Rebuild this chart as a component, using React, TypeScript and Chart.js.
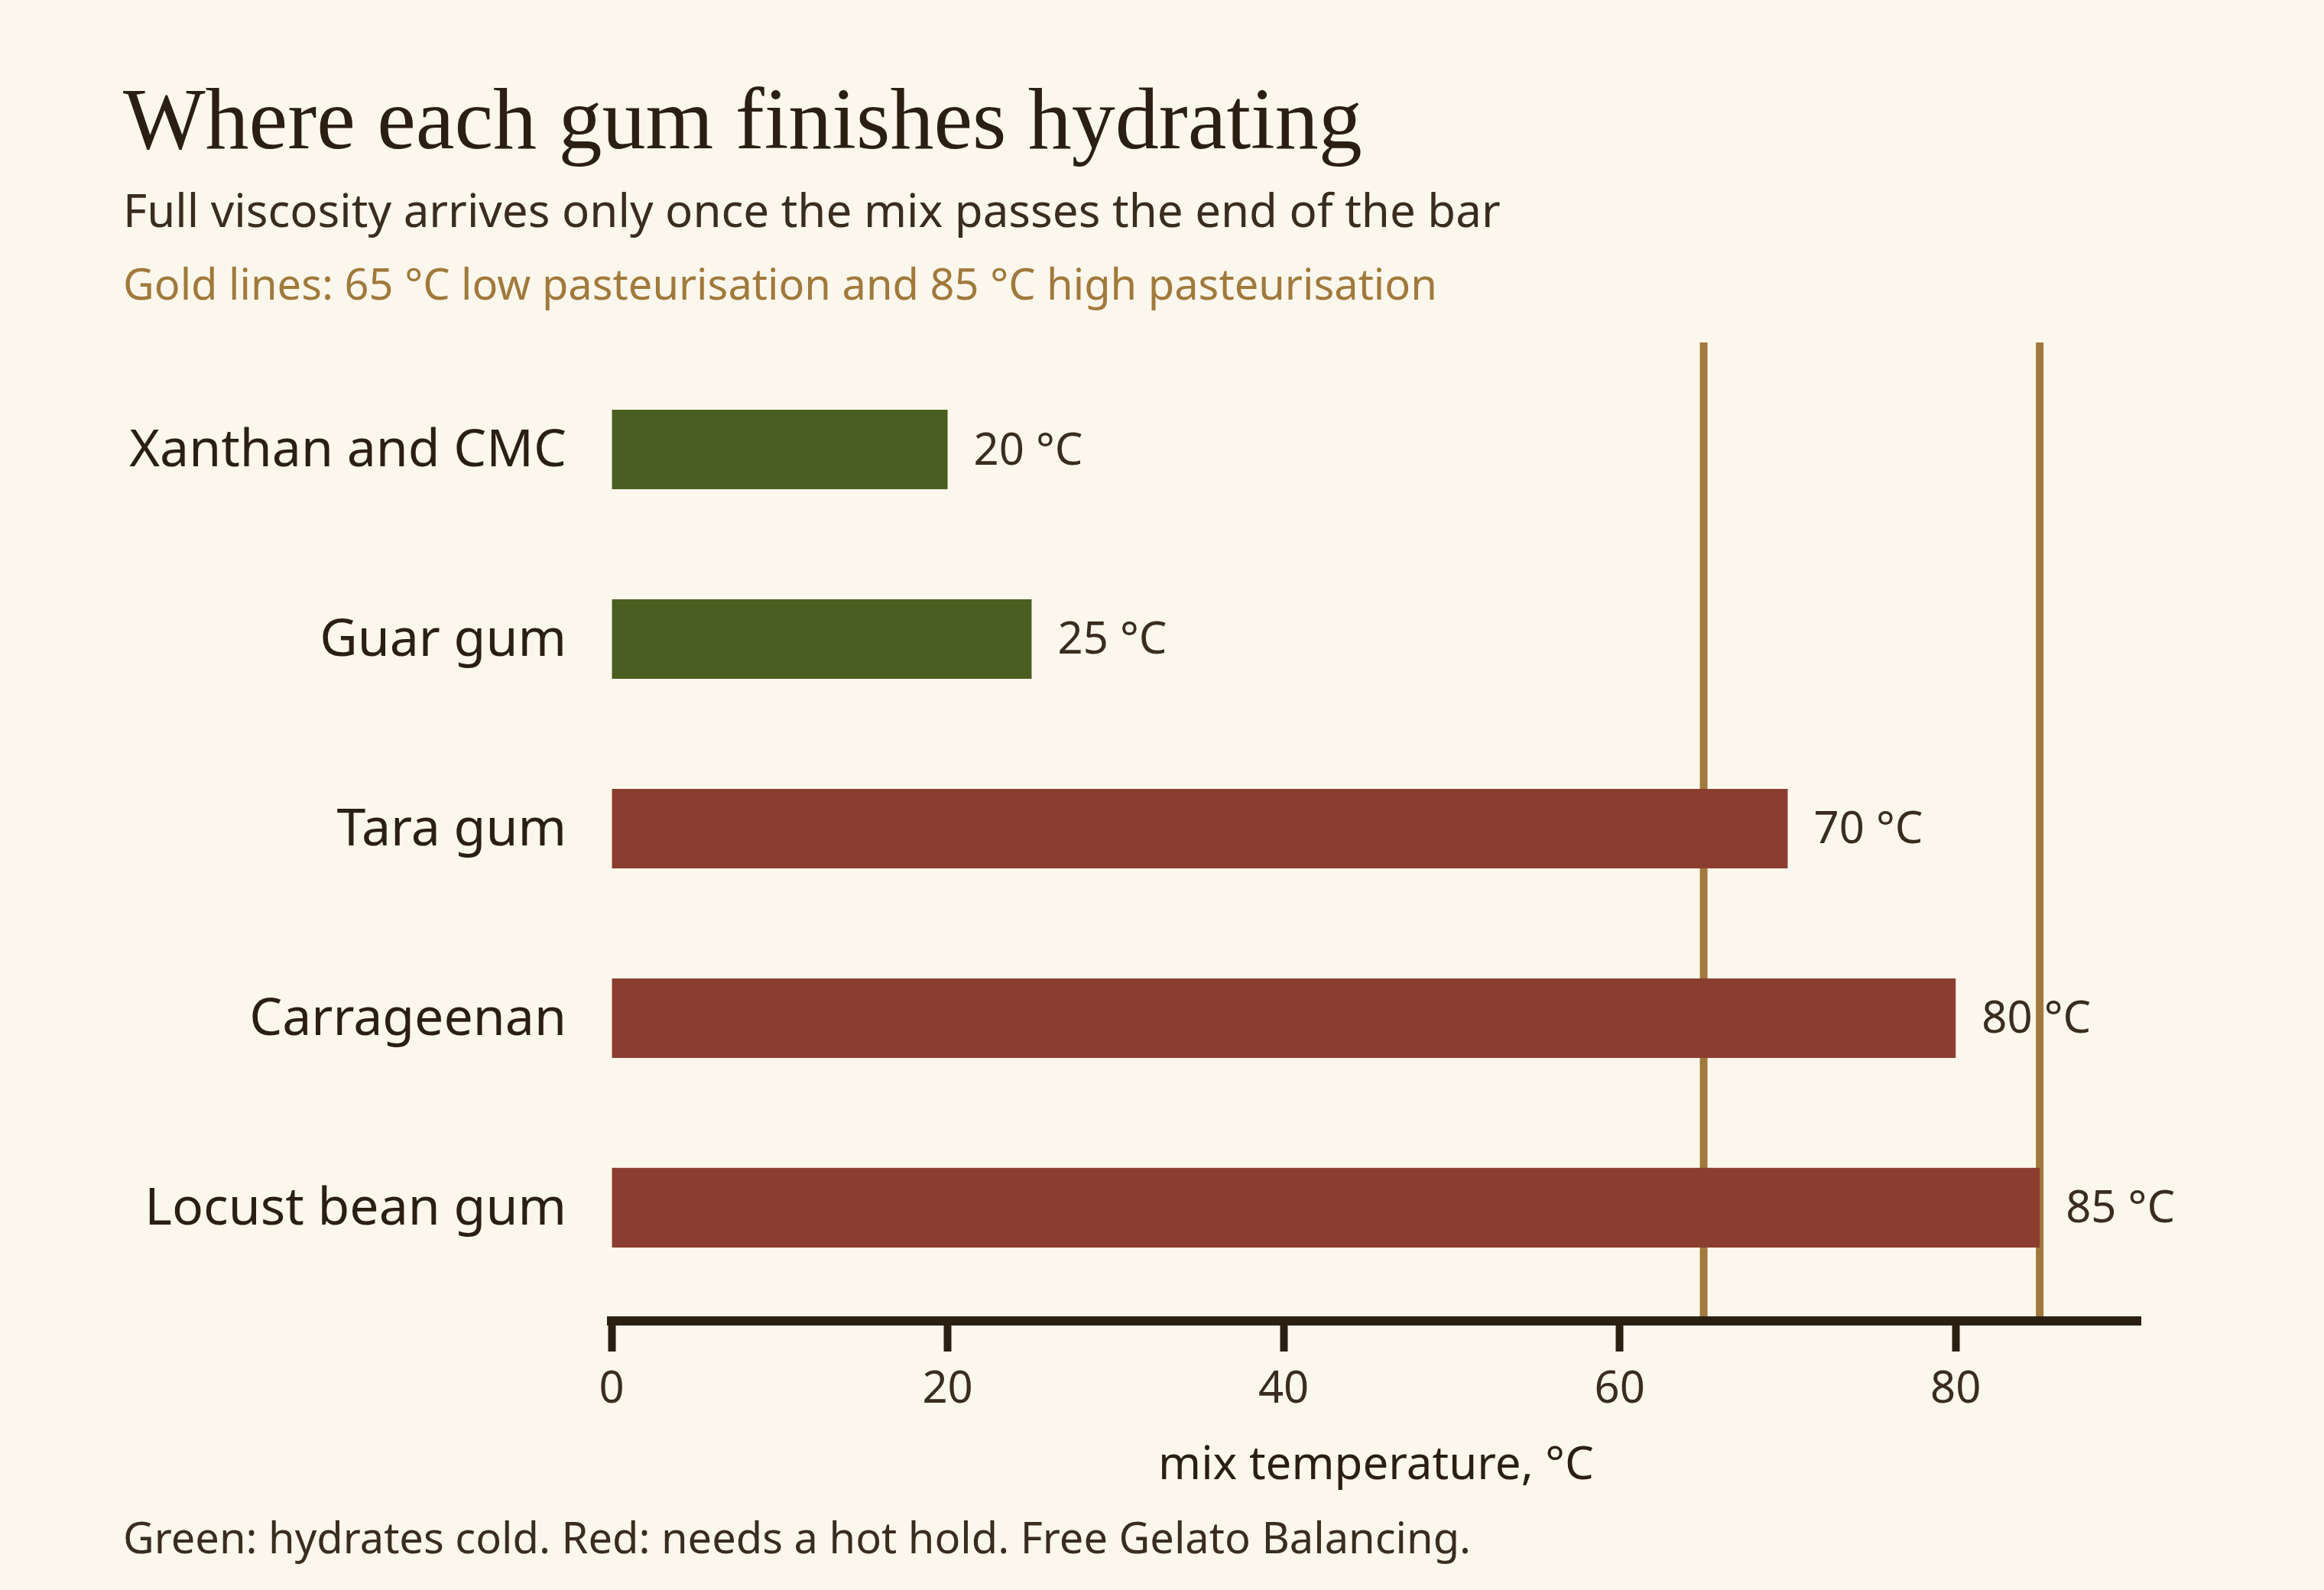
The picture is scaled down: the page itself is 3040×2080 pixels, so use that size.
import { FC, useEffect, useRef } from 'react';
import { Chart, registerables } from 'chart.js';

Chart.register(...registerables);

// data
const gums = ['Xanthan and CMC', 'Guar gum', 'Tara gum', 'Carrageenan', 'Locust bean gum'];
const hydrationTemps = [20, 25, 70, 80, 85];
const needsHotHold = [false, false, true, true, true];
const pasteurisationTemps = [65, 85];
const xTickValues = [0, 20, 40, 60, 80];

const BG = '#FCF7ED';
const INK = '#2B1F13';
const INK_SOFT = '#3A2D20';
const GOLD = '#A07A3C';
const GREEN = '#4B5E22';
const RED = '#8B3D2F';
const SANS = '"Noto Sans", sans-serif';
const SERIF = '"Liberation Serif", serif';

const textPlugin = {
	id: 'gumText',
	beforeDraw(chart: any) {
		const { ctx, width, height } = chart;
		ctx.save();
		ctx.fillStyle = BG;
		ctx.fillRect(0, 0, width, height);
		ctx.restore();
	},
	beforeDatasetsDraw(chart: any) {
		// gold pasteurisation lines sit under the bars
		const { ctx, chartArea, scales } = chart;
		const border = scales.x.options.border.width;
		ctx.save();
		ctx.strokeStyle = GOLD;
		ctx.lineWidth = 10;
		pasteurisationTemps.forEach((t) => {
			const px = scales.x.getPixelForValue(t);
			ctx.beginPath();
			ctx.moveTo(px, chartArea.top);
			ctx.lineTo(px, chartArea.bottom - border / 2);
			ctx.stroke();
		});
		ctx.restore();
	},
	afterDraw(chart: any) {
		const { ctx, scales, height } = chart;
		ctx.save();
		ctx.textAlign = 'left';
		ctx.textBaseline = 'alphabetic';

		ctx.fillStyle = INK;
		ctx.font = `114px ${SERIF}`;
		ctx.fillText('Where each gum finishes hydrating', 161, 194);

		ctx.fillStyle = INK_SOFT;
		ctx.font = `60px ${SANS}`;
		ctx.fillText('Full viscosity arrives only once the mix passes the end of the bar', 161, 297);

		ctx.fillStyle = GOLD;
		ctx.font = `56px ${SANS}`;
		ctx.fillText('Gold lines: 65 °C low pasteurisation and 85 °C high pasteurisation', 161, 392);

		ctx.fillStyle = INK_SOFT;
		ctx.font = `56px ${SANS}`;
		ctx.fillText('Green: hydrates cold. Red: needs a hot hold. Free Gelato Balancing.', 161, height - 48);

		// value labels at the bar ends
		ctx.textBaseline = 'middle';
		ctx.font = `58px ${SANS}`;
		hydrationTemps.forEach((t, i) => {
			const px = scales.x.getPixelForValue(t);
			const py = scales.y.getPixelForValue(i);
			ctx.fillText(`${t} °C`, px + 34, py + 3);
		});
		ctx.restore();
	},
};

const GumChart: FC = () => {
	const chartRef = useRef<HTMLCanvasElement>(null);

	useEffect(() => {
		const ctx = chartRef.current?.getContext('2d');
		if (!ctx) return;

		const chart = new Chart(ctx, {
			type: 'bar',
			data: {
				datasets: [
					{
						data: hydrationTemps.map((t, i) => ({ x: t, y: i })),
						backgroundColor: needsHotHold.map((hot) => (hot ? RED : GREEN)),
						borderWidth: 0,
						categoryPercentage: 1,
						barPercentage: 0.42,
					},
				],
			},
			options: {
				indexAxis: 'y',
				animation: false,
				responsive: true,
				maintainAspectRatio: false,
				layout: {
					padding: { top: 448, right: 240, bottom: 92, left: 0 },
				},
				scales: {
					x: {
						type: 'linear',
						position: 'bottom',
						min: 0,
						max: 91,
						afterBuildTicks: (scale: any) => {
							scale.ticks = xTickValues.map((v) => ({ value: v }));
						},
						afterFit: (scale: any) => {
							scale.height = 260;
						},
						grid: {
							drawOnChartArea: false,
							drawTicks: true,
							tickLength: 40,
							tickWidth: 10,
							tickColor: INK,
						},
						border: { display: true, width: 12, color: INK },
						ticks: {
							padding: 16,
							color: INK_SOFT,
							font: { family: SANS, size: 58 },
						},
						title: {
							display: true,
							text: 'mix temperature, °C',
							color: INK,
							font: { family: SANS, size: 60 },
							padding: { top: 20, bottom: 34 },
						},
					},
					y: {
						type: 'linear',
						reverse: true,
						offset: false,
						min: -0.5645,
						max: 4.597,
						afterBuildTicks: (scale: any) => {
							scale.ticks = gums.map((_, i) => ({ value: i }));
						},
						afterFit: (scale: any) => {
							scale.width = 800;
						},
						grid: { display: false, drawTicks: false, offset: false },
						border: { display: false },
						ticks: {
							padding: 59,
							labelOffset: 3,
							color: INK,
							font: { family: SANS, size: 68 },
							callback: (v: any) => gums[v] ?? '',
						},
					},
				},
				plugins: {
					legend: { display: false },
					tooltip: { enabled: false },
				},
			},
			plugins: [textPlugin],
		});

		return () => {
			chart.destroy();
		};
	}, []);

	return (
		<div style={{ position: 'fixed', left: 0, top: 0, width: 3040, height: 2080, background: BG }}>
			<canvas ref={chartRef} />
		</div>
	);
};

export default function App() {
	return <GumChart />;
}
